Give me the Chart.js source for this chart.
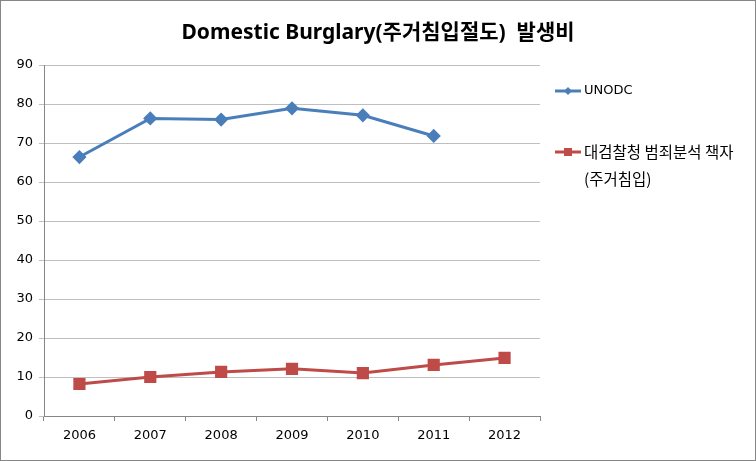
<!DOCTYPE html>
<html>
<head>
<meta charset="utf-8">
<script src="https://cdn.jsdelivr.net/npm/chart.js@4/dist/chart.umd.min.js"></script>
<style>
  html, body { margin: 0; padding: 0; background: #fff; }
  #wrap { width: 756px; height: 461px; box-sizing: border-box; border: 1px solid #868686; }
</style>
</head>
<body>
<div id="wrap"><canvas id="c" width="754" height="459"></canvas></div>
<script>
// Domestic burglary rate, 2006-2012
const YEARS = ["2006", "2007", "2008", "2009", "2010", "2011", "2012"];
const UNODC = [66.4, 76.3, 76.0, 78.9, 77.1, 71.8, null];
const SPO = [8.2, 10.0, 11.3, 12.1, 11.0, 13.1, 14.9];
const LEGEND_LABELS = [["UNODC"], ["대검찰청 범죄분석 책자", "(주거침입)"]];
const TITLE = "Domestic Burglary(주거침입절도)  발생비";

const LATIN = "'DejaVu Sans', 'Noto Sans CJK KR', sans-serif";
const HANGUL = "'Noto Sans CJK KR', sans-serif";
const BLUE = "#4a7ebb";
const RED = "#be4b48";

// Title centred on the whole frame, plus a right-hand legend with a wrapped label
const frameText = {
  id: "frameText",
  afterDraw(chart) {
    const ctx = chart.ctx;
    ctx.save();
    ctx.fillStyle = "#000";
    ctx.textBaseline = "middle";
    ctx.textAlign = "center";
    ctx.font = "bold 21px 'Noto Sans', 'Noto Sans CJK KR', sans-serif";
    ctx.fillText(TITLE, 377, 32);

    ctx.textAlign = "left";
    const x0 = 554;
    const rows = [90, 151];
    chart.data.datasets.forEach((ds, i) => {
      const y = rows[i];
      ctx.strokeStyle = ds.borderColor;
      ctx.lineWidth = 3;
      ctx.beginPath();
      ctx.moveTo(x0, y);
      ctx.lineTo(x0 + 26, y);
      ctx.stroke();
      ctx.fillStyle = ds.borderColor;
      if (ds.pointStyle === "rectRot") {
        ctx.beginPath();
        ctx.moveTo(x0 + 13, y - 4);
        ctx.lineTo(x0 + 17, y);
        ctx.lineTo(x0 + 13, y + 4);
        ctx.lineTo(x0 + 9, y);
        ctx.closePath();
        ctx.fill();
      } else {
        ctx.fillRect(x0 + 9, y - 4, 8, 8);
      }
      ctx.fillStyle = "#000";
      LEGEND_LABELS[i].forEach((t, j) => {
        ctx.font = /[\uac00-\ud7a3]/.test(t) ? "15.5px " + HANGUL : "13px " + LATIN;
        ctx.fillText(t, x0 + 29, y + j * 27);
      });
    });
    ctx.restore();
  },
};

new Chart(document.getElementById("c"), {
  type: "line",
  data: {
    labels: YEARS,
    datasets: [
      {
        label: "UNODC",
        data: UNODC,
        borderColor: BLUE,
        backgroundColor: BLUE,
        borderWidth: 3,
        pointStyle: "rectRot",
        pointRadius: 5,
        pointBackgroundColor: BLUE,
        pointBorderColor: BLUE,
        tension: 0,
      },
      {
        label: "대검찰청 범죄분석 책자 (주거침입)",
        data: SPO,
        borderColor: RED,
        backgroundColor: RED,
        borderWidth: 3,
        pointStyle: "rect",
        pointRadius: 6.5,
        pointBackgroundColor: RED,
        pointBorderColor: RED,
        tension: 0,
      },
    ],
  },
  options: {
    responsive: false,
    animation: false,
    layout: { padding: { left: 0, right: 215, top: 64, bottom: 0 } },
    plugins: {
      legend: { display: false },
      tooltip: { enabled: false },
      title: { display: false },
    },
    scales: {
      x: {
        offset: true,
        grid: { offset: true, drawOnChartArea: false, tickLength: 5, color: "#868686" },
        border: { color: "#868686" },
        ticks: { color: "#000", font: { family: LATIN, size: 13 }, padding: 7 },
        afterFit: (s) => { s.height = 44; },
      },
      y: {
        min: 0,
        max: 90,
        ticks: { stepSize: 10, color: "#000", font: { family: LATIN, size: 13 }, padding: 6 },
        grid: { color: "#bfbfbf", tickLength: 5 },
        border: { color: "#868686" },
        afterFit: (s) => { s.width = 43; },
      },
    },
  },
  plugins: [frameText],
});
</script>
</body>
</html>
